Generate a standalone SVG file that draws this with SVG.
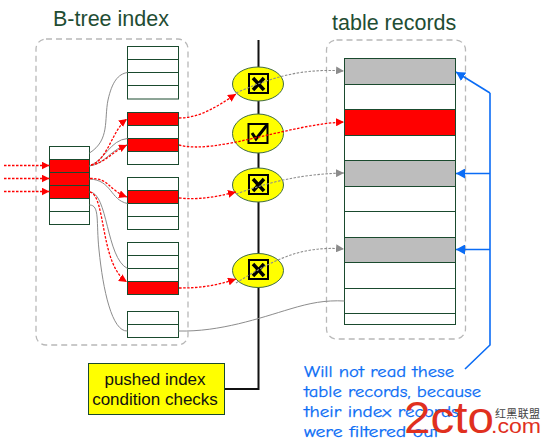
<svg xmlns="http://www.w3.org/2000/svg" width="542" height="444" viewBox="0 0 542 444">
<style>
.rowW{fill:#fff;stroke:#1a4a2e;stroke-width:1}
.rowR{fill:#f00;stroke:#1a4a2e;stroke-width:1}
.rowG{fill:#bdbdbd;stroke:#1a4a2e;stroke-width:1}
.dash{fill:none;stroke:#b8b8b8;stroke-width:1.3;stroke-dasharray:6 4}
.title{font-family:"Liberation Sans",Arial,sans-serif;font-size:21.5px;fill:#1f4d33}
.gray{fill:none;stroke:#8c8c8c;stroke-width:1}
.red{fill:none;stroke:#f00;stroke-width:1.3;stroke-dasharray:2.5 1.5;marker-end:url(#ar)}
.gd{fill:none;stroke:#8c8c8c;stroke-width:1.1;stroke-dasharray:2.5 1.5;marker-end:url(#ag)}
.blue{fill:none;stroke:#0a6cf5;stroke-width:1.6}
.el{fill:#ff0;stroke:#3f6b45;stroke-width:1}
.cb{fill:none;stroke:#000;stroke-width:2}
.note{font-family:"Comic Sans MS","Comic Neue","DejaVu Sans",sans-serif;font-size:16px;fill:#0a6cf5;stroke:#0a6cf5;stroke-width:.25}
.lab{font-family:"Liberation Sans",Arial,sans-serif;font-size:17px;fill:#111;text-anchor:middle}
</style>
<defs>
<marker id="ar" markerUnits="userSpaceOnUse" markerWidth="9" markerHeight="8" refX="8" refY="4" orient="auto"><path d="M0 0L8 4L0 8z" fill="#f00"/></marker>
<marker id="ag" markerUnits="userSpaceOnUse" markerWidth="9" markerHeight="8" refX="8" refY="4" orient="auto"><path d="M0 0L8 4L0 8z" fill="#8c8c8c"/></marker>
<marker id="ab" markerUnits="userSpaceOnUse" markerWidth="10" markerHeight="10" refX="9" refY="5" orient="auto"><path d="M0 0L9 5L0 10z" fill="#0a6cf5"/></marker>
</defs>
<rect width="542" height="444" fill="#fff"/>
<g id="index-frame"><rect class="dash" x="36" y="39" width="152" height="306" rx="10"/><text class="title" x="53" y="26">B-tree index</text></g>
<g id="table-frame"><rect class="dash" x="326.500" y="40" width="139" height="299" rx="10"/><text class="title" x="332" y="30">table records</text></g>
<g id="spine"><path d="M258.500 40V389H224" fill="none" stroke="#111" stroke-width="2"/></g>
<g id="root">
<rect class="rowW" x="49.500" y="146.500" width="40" height="13"/><rect class="rowR" x="49.500" y="159.500" width="40" height="13"/><rect class="rowR" x="49.500" y="172.500" width="40" height="13"/><rect class="rowR" x="49.500" y="185.500" width="40" height="13"/><rect class="rowW" x="49.500" y="198.500" width="40" height="13"/><rect class="rowW" x="49.500" y="211.500" width="40" height="13"/>
</g>
<g id="leaf1"><rect class="rowW" x="127.500" y="46.500" width="51" height="13"/><rect class="rowW" x="127.500" y="59.500" width="51" height="13"/><rect class="rowW" x="127.500" y="72.500" width="51" height="13"/><rect class="rowW" x="127.500" y="85.500" width="51" height="13.500"/></g>
<g id="leaf2"><rect class="rowR" x="127.500" y="112.500" width="51" height="13"/><rect class="rowW" x="127.500" y="125.500" width="51" height="13"/><rect class="rowR" x="127.500" y="138.500" width="51" height="13"/><rect class="rowW" x="127.500" y="151.500" width="51" height="13"/></g>
<g id="leaf3"><rect class="rowW" x="127.500" y="177.500" width="51" height="13"/><rect class="rowR" x="127.500" y="190.500" width="51" height="13"/><rect class="rowW" x="127.500" y="203.500" width="51" height="13"/><rect class="rowW" x="127.500" y="216.500" width="51" height="13"/></g>
<g id="leaf4"><rect class="rowW" x="127.500" y="242.500" width="51" height="13"/><rect class="rowW" x="127.500" y="255.500" width="51" height="13"/><rect class="rowW" x="127.500" y="268.500" width="51" height="13"/><rect class="rowR" x="127.500" y="281.500" width="51" height="13"/></g>
<g id="leaf5"><rect class="rowW" x="127.500" y="311.500" width="51" height="13"/><rect class="rowW" x="127.500" y="324.500" width="51" height="13"/></g>
<g id="table">
<rect class="rowG" x="344.500" y="58.500" width="111" height="26"/><rect class="rowW" x="344.500" y="84.500" width="111" height="25"/><rect class="rowR" x="344.500" y="109.500" width="111" height="26"/><rect class="rowW" x="344.500" y="135.500" width="111" height="25"/><rect class="rowG" x="344.500" y="160.500" width="111" height="26"/><rect class="rowW" x="344.500" y="186.500" width="111" height="25"/><rect class="rowW" x="344.500" y="211.500" width="111" height="26"/><rect class="rowG" x="344.500" y="237.500" width="111" height="25"/><rect class="rowW" x="344.500" y="262.500" width="111" height="26"/><rect class="rowW" x="344.500" y="288.500" width="111" height="25"/><rect class="rowW" x="344.500" y="313.500" width="111" height="11"/>
</g>
<g id="check1"><ellipse class="el" cx="258" cy="84" rx="25.500" ry="17"/><rect class="cb" x="249" y="74" width="19" height="19"/><path d="M253 78L264 90M264 78L253 90" stroke="#000" stroke-width="3.500" fill="none"/></g>
<g id="check2"><ellipse class="el" cx="258" cy="133.500" rx="25.500" ry="19.500"/><rect class="cb" x="248.500" y="124" width="19" height="19"/><path d="M252 133L256 139L267 125" stroke="#000" stroke-width="3" fill="none"/></g>
<g id="check3"><ellipse class="el" cx="258" cy="185" rx="25.500" ry="17"/><rect class="cb" x="249" y="175" width="19" height="19"/><path d="M253 179L264 191M264 179L253 191" stroke="#000" stroke-width="3.500" fill="none"/></g>
<g id="check4"><ellipse class="el" cx="258" cy="270.500" rx="25.500" ry="17"/><rect class="cb" x="249" y="260" width="19" height="19"/><path d="M253 264L264 276M264 264L253 276" stroke="#000" stroke-width="3.500" fill="none"/></g>
<g id="connectors">
<path class="gray" d="M89.500 153C110 140 104 120 108 100C112 82 118 74 127.500 72.500"/>
<path class="gray" d="M89.500 166C105 160 110 140 127.500 138.500"/>
<path class="gray" d="M89.500 166C105 164 112 148 127.500 145"/>
<path class="gray" d="M89.500 179C112 180 110 200 127.500 203.500"/>
<path class="gray" d="M89.500 192C108 192 106 258 127.500 268.500"/>
<path class="gray" d="M89.500 205C100 205 96 222 99 250C103 290 112 332 127.500 331"/>
<path class="gray" d="M178.500 331C220 332 260 318 290 309C310 303 325 300 344.500 301"/>
<path class="red" d="M4 165.500H49.500"/><path class="red" d="M4 178.500H49.500"/><path class="red" d="M4 191.500H49.500"/>
<path class="red" d="M91 165C108 160 112 130 127 119"/>
<path class="red" d="M91 165C105 163 112 152 127 145"/>
<path class="red" d="M90 178.500C110 178 108 190 127 197"/>
<path class="red" d="M90 192C106 196 100 265 127 282"/>
<path class="red" d="M179 118C200 118 218 106 236 94"/>
<path class="red" d="M179 145C215 155 290 124 344 122"/>
<path class="red" d="M179 198C200 200 215 197 236 192"/>
<path class="red" d="M179 288C200 288 215 286 236 279"/>
<path class="gd" d="M236 93C270 78 300 68 344 71"/>
<path class="gd" d="M236 194C270 182 300 174 344 173"/>
<path class="gd" d="M236 283C270 262 300 245 344 249"/>
<path class="blue" d="M490 93L456 72" marker-end="url(#ab)"/>
<path class="blue" d="M490 173.500H456" marker-end="url(#ab)"/>
<path class="blue" d="M490 249.500H456" marker-end="url(#ab)"/>
<path class="blue" d="M465 369L490 345V93"/>
</g>
<g id="cond"><rect x="88.500" y="363.500" width="136" height="51" fill="#ff0" stroke="#1a4a2e"/><text class="lab" x="155" y="385">pushed index</text><text class="lab" x="155" y="405">condition checks</text></g>
<g id="note"><text class="note" x="304" y="377" textLength="150" lengthAdjust="spacingAndGlyphs">Will not read these</text><text class="note" x="304" y="397" textLength="177" lengthAdjust="spacingAndGlyphs">table records, because</text><text class="note" x="304" y="417" textLength="155" lengthAdjust="spacingAndGlyphs">their index records</text><text class="note" x="304" y="437" textLength="135" lengthAdjust="spacingAndGlyphs">were filtered out</text></g>
<g id="watermark"><text x="404" y="433" font-family="'Liberation Sans',sans-serif" font-size="44" fill="#e0301e" textLength="90" lengthAdjust="spacingAndGlyphs">2cto</text><text x="495" y="418" font-family="'Noto Sans CJK SC',sans-serif" font-size="11" fill="#444" textLength="45">红黑联盟</text><text x="491" y="433" font-family="'Liberation Sans',sans-serif" font-size="21" fill="#e0301e" textLength="50" lengthAdjust="spacingAndGlyphs">.com</text></g>
</svg>
